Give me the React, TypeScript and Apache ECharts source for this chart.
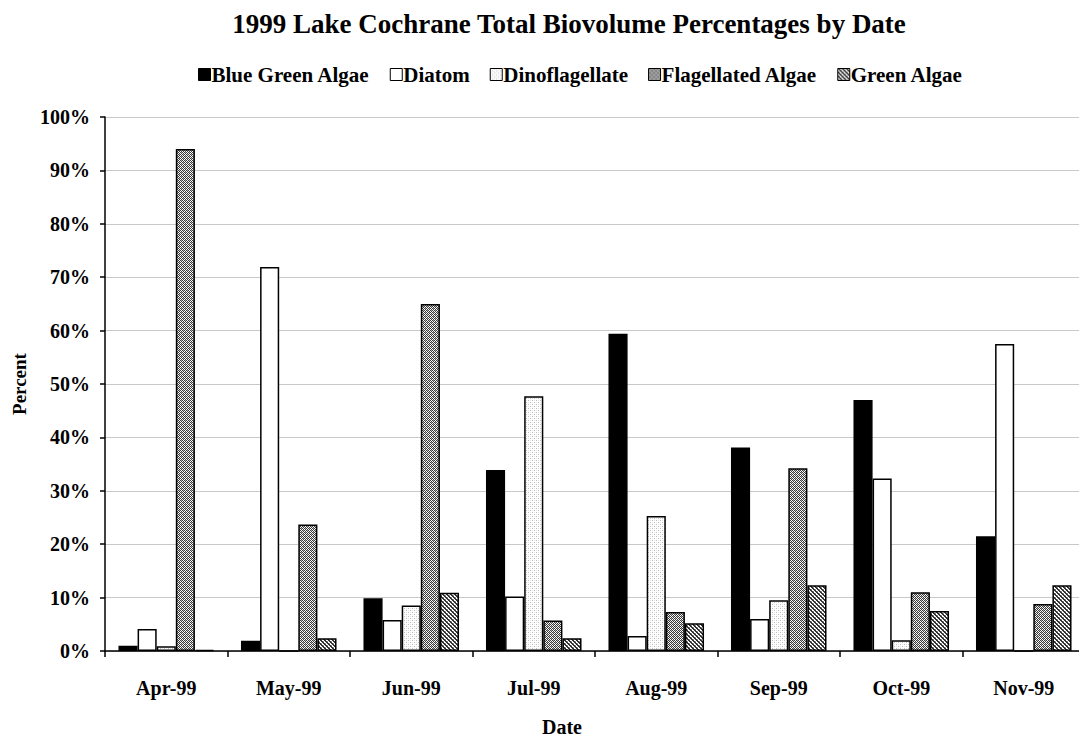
import React, { useEffect, useRef } from "react";
import * as echarts from "echarts";

const categories = ["Apr-99", "May-99", "Jun-99", "Jul-99", "Aug-99", "Sep-99", "Oct-99", "Nov-99"];
const seriesNames = ["Blue Green Algae", "Diatom", "Dinoflagellate", "Flagellated Algae", "Green Algae"];
const blueGreen = [1.0, 1.9, 9.9, 33.9, 59.4, 38.1, 47.0, 21.5];
const diatom = [4.1, 71.9, 5.8, 10.2, 2.8, 6.0, 32.3, 57.5];
const dino = [0.9, 0, 8.5, 47.7, 25.3, 9.5, 2.0, 0];
const flagellated = [94.0, 23.7, 65.0, 5.7, 7.3, 34.2, 11.0, 8.8];
const greenAlgae = [0.2, 2.4, 10.9, 2.4, 5.2, 12.3, 7.5, 12.3];
const yTicks = [0, 10, 20, 30, 40, 50, 60, 70, 80, 90, 100];

const FONT = "'Liberation Serif', 'Times New Roman', serif";

function makePattern(kind: string): HTMLCanvasElement {
  const c = document.createElement("canvas");
  const size = 4;
  c.width = size;
  c.height = size;
  const ctx = c.getContext("2d")!;
  ctx.fillStyle = "#ffffff";
  ctx.fillRect(0, 0, size, size);
  if (kind === "dots") {
    ctx.fillStyle = "#bdbdbd";
    ctx.fillRect(0, 0, 1, 1);
    ctx.fillRect(2, 2, 1, 1);
    ctx.fillStyle = "#e4e4e4";
    ctx.fillRect(2, 0, 1, 1);
    ctx.fillRect(0, 2, 1, 1);
  } else if (kind === "checker") {
    ctx.fillStyle = "#3a3a3a";
    for (let y = 0; y < size; y++) {
      for (let x = 0; x < size; x++) {
        if ((x + y) % 2 === 0) ctx.fillRect(x, y, 1, 1);
      }
    }
    ctx.fillStyle = "#b0b0b0";
    ctx.fillRect(1, 0, 1, 1);
    ctx.fillRect(3, 2, 1, 1);
  } else if (kind === "diag") {
    ctx.fillStyle = "#333333";
    for (let y = 0; y < size; y++) {
      for (let x = 0; x < size; x++) {
        const d = (x - y + 8) % 4;
        if (d === 0 || d === 1) ctx.fillRect(x, y, 1, 1);
      }
    }
    ctx.fillStyle = "#9a9a9a";
    ctx.fillRect(3, 1, 1, 1);
    ctx.fillRect(1, 3, 1, 1);
  }
  return c;
}

export default function App() {
  const ref = useRef<HTMLDivElement>(null);
  useEffect(() => {
    if (!ref.current) return;
    const chart = echarts.init(ref.current, undefined, { renderer: "svg" });
    const colors: any[] = [
      "#000000",
      "#ffffff",
      { image: makePattern("dots"), repeat: "repeat" },
      { image: makePattern("checker"), repeat: "repeat" },
      { image: makePattern("diag"), repeat: "repeat" },
    ];
    const data = [blueGreen, diatom, dino, flagellated, greenAlgae];
    chart.setOption({
      animation: false,
      backgroundColor: "#ffffff",
      title: {
        text: "1999 Lake Cochrane Total Biovolume Percentages by Date",
        left: 564,
        textAlign: "center",
        top: 5,
        textStyle: { fontFamily: FONT, fontSize: 27, fontWeight: "bold", color: "#000" },
      },
      legend: {
        data: seriesNames,
        left: 193,
        width: 880,
        top: 59,
        itemWidth: 12,
        itemHeight: 12,
        itemGap: 20,
        icon: "rect",
        textStyle: { fontFamily: FONT, fontSize: 21, fontWeight: "bold", color: "#000", padding: [0, 0, 0, -4] },
        itemStyle: { borderColor: "#000", borderWidth: 1 },
      },
      grid: { left: 105, top: 117, width: 980, height: 534, containLabel: false, outerBoundsMode: "none" },
      xAxis: {
        type: "category",
        data: categories,
        name: "Date",
        nameLocation: "middle",
        nameGap: 66,
        nameTextStyle: { fontFamily: FONT, fontSize: 20, fontWeight: "bold", color: "#000", padding: [0, 66, 0, 0] },
        axisLine: { lineStyle: { color: "#000", width: 1.5 } },
        axisTick: { show: true, length: 6, lineStyle: { color: "#000", width: 1.5 } },
        axisLabel: { fontFamily: FONT, fontSize: 20, fontWeight: "bold", color: "#000", margin: 27 },
        splitLine: { show: false },
      },
      yAxis: {
        type: "value",
        min: yTicks[0],
        max: yTicks[yTicks.length - 1],
        interval: 10,
        name: "Percent",
        nameLocation: "middle",
        nameGap: 76,
        nameRotate: 90,
        nameTextStyle: { fontFamily: FONT, fontSize: 19, fontWeight: "bold", color: "#000" },
        axisLine: { show: true, lineStyle: { color: "#000", width: 1.5 } },
        axisTick: { show: true, length: 5, inside: false, lineStyle: { color: "#000", width: 1.5 } },
        axisLabel: { formatter: "{value}%", fontFamily: FONT, fontSize: 20, fontWeight: "bold", color: "#000", margin: 15 },
        splitLine: { show: true, lineStyle: { color: "#c8c8c8", width: 1 } },
      },
      series: seriesNames.map((name, i) => ({
        name,
        type: "bar",
        data: data[i],
        barGap: "0%",
        barCategoryGap: "22%",
        itemStyle: { color: colors[i], borderColor: "#000", borderWidth: 1.5 },
      })),
    });
    return () => chart.dispose();
  }, []);
  return (
    <div
      ref={ref}
      style={{ position: "fixed", left: 0, top: 0, width: 1079, height: 738, background: "#fff" }}
    />
  );
}
